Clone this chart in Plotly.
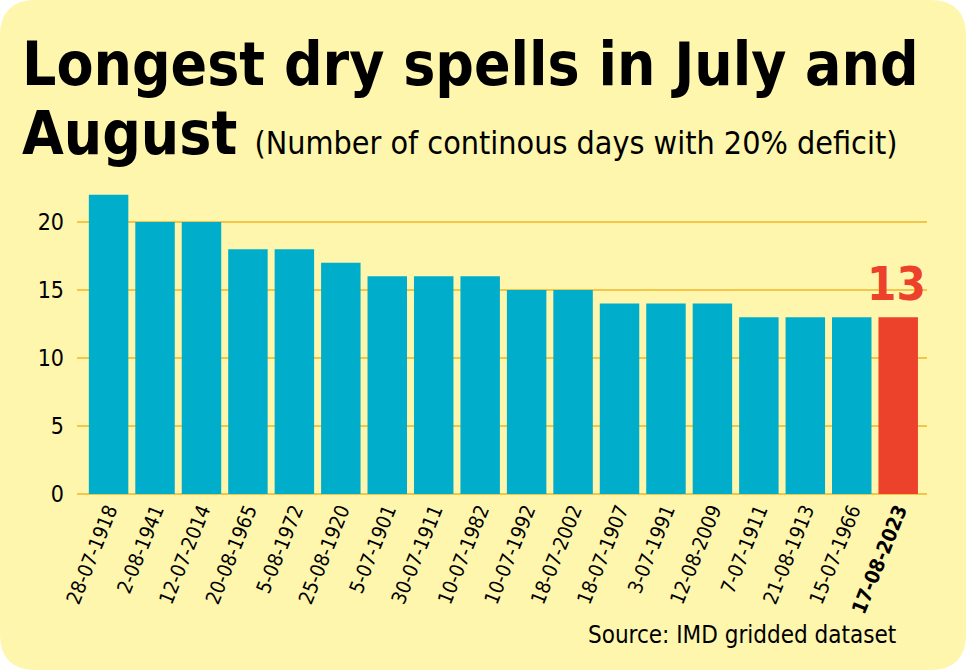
import plotly.graph_objects as go

dates = ["28-07-1918", "2-08-1941", "12-07-2014", "20-08-1965", "5-08-1972", "25-08-1920",
         "5-07-1901", "30-07-1911", "10-07-1982", "10-07-1992", "18-07-2002", "18-07-1907",
         "3-07-1991", "12-08-2009", "7-07-1911", "21-08-1913", "15-07-1966", "17-08-2023"]
days = [22, 20, 20, 18, 18, 17, 16, 16, 16, 15, 15, 14, 14, 14, 13, 13, 13, 13]
highlight = "17-08-2023"
yticks = [0, 5, 10, 15, 20]

BG = "#FEF6AD"
BLUE = "#00AECB"
RED = "#EC412A"
GRID = "#F2C64A"
FONT = "DejaVu Sans Condensed, sans-serif"

W, H = 969, 672
L, R, T, B = 77, 42, 190, 178
PW, PH = W - L - R, H - T - B

def px(x):
    return (x - L) / PW

def py(y):
    return (H - B - y) / PH

colors = [RED if d == highlight else BLUE for d in dates]
ticktext = [f"<b>{d}</b>" if d == highlight else d for d in dates]

fig = go.Figure()
fig.add_trace(go.Bar(x=list(range(len(dates))), y=days, marker=dict(color=colors, line=dict(width=0)),
                     width=0.85, hoverinfo="skip"))

# rounded background
x0, x1, y0, y1, r = 0, 966, 0, 670, 36
path = (f"M {px(x0)},{py(y0 + r)} Q {px(x0)},{py(y0)} {px(x0 + r)},{py(y0)} "
        f"L {px(x1 - r)},{py(y0)} Q {px(x1)},{py(y0)} {px(x1)},{py(y0 + r)} "
        f"L {px(x1)},{py(y1 - r)} Q {px(x1)},{py(y1)} {px(x1 - r)},{py(y1)} "
        f"L {px(x0 + r)},{py(y1)} Q {px(x0)},{py(y1)} {px(x0)},{py(y1 - r)} Z")
fig.add_shape(type="path", path=path, xref="paper", yref="paper", fillcolor=BG,
              line=dict(width=0), layer="below")

hi = dates.index(highlight)
fig.add_annotation(x=hi, y=days[hi], xref="x", yref="y", text=f"<b>{days[hi]}</b>",
                   showarrow=False, yanchor="bottom", yshift=4, xshift=-2,
                   font=dict(family=FONT, size=47, color=RED))

fig.add_annotation(x=px(20), y=py(64), xref="paper", yref="paper", xanchor="left", yanchor="middle",
                   text="<b>Longest dry spells in July and</b>", showarrow=False,
                   font=dict(family=FONT, size=60, color="black"))
fig.add_annotation(x=px(20), y=py(133), xref="paper", yref="paper", xanchor="left", yanchor="middle",
                   text="<b>August</b> <span style='font-size:32px;font-weight:normal'>(Number of continous days with 20% deficit)</span>",
                   showarrow=False, font=dict(family=FONT, size=60, color="black"))
fig.add_annotation(x=px(898), y=py(635), xref="paper", yref="paper", xanchor="right", yanchor="middle",
                   text="Source: IMD gridded dataset", showarrow=False,
                   font=dict(family=FONT, size=24, color="black"))

fig.update_layout(
    width=W, height=H, margin=dict(l=L, r=R, t=T, b=B),
    paper_bgcolor="white", plot_bgcolor="rgba(0,0,0,0)",
    showlegend=False, bargap=0.15,
    xaxis=dict(range=[-0.68, len(dates) - 1 + 0.62], tickmode="array", tickvals=list(range(len(dates))),
               ticktext=ticktext, tickangle=-68, showgrid=False, zeroline=False, showline=False,
               ticks="", tickfont=dict(family=FONT, size=20, color="black")),
    yaxis=dict(range=[0, 22.35], tickvals=yticks, showgrid=True, gridcolor=GRID, gridwidth=2,
               zeroline=True, zerolinecolor=GRID, zerolinewidth=2, showline=False, ticks="",
               ticklabelstandoff=12, tickfont=dict(family=FONT, size=23, color="black")),
)

fig.write_html("out.html")
